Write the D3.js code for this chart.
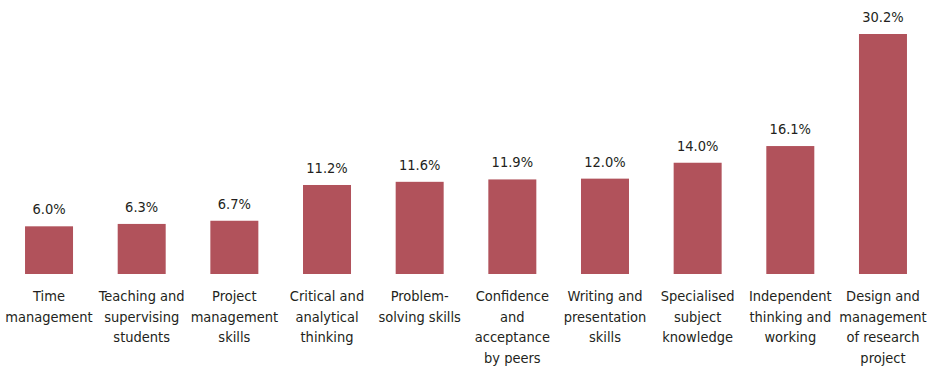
<!DOCTYPE html>
<html lang="en">
<head>
	<meta charset="UTF-8"/>
	<title>Skills bar chart</title>
	<script src="https://d3js.org/d3.v7.min.js"></script>
	<style>
		body { margin: 0; background: #fff; }
		text { font-family: "DejaVu Sans Condensed", "Liberation Sans Narrow", sans-serif; fill: #231f20; }
	</style>
</head>
<body>
	<script>
	var w = 931;
	var h = 369;

	// category labels, split into lines as in the picture
	var categories = [
		["Time", "management"],
		["Teaching and", "supervising", "students"],
		["Project", "management", "skills"],
		["Critical and", "analytical", "thinking"],
		["Problem-", "solving skills"],
		["Confidence", "and", "acceptance", "by peers"],
		["Writing and", "presentation", "skills"],
		["Specialised", "subject", "knowledge"],
		["Independent", "thinking and", "working"],
		["Design and", "management", "of research", "project"]
	];
	var values = [6.0, 6.3, 6.7, 11.2, 11.6, 11.9, 12.0, 14.0, 16.1, 30.2];

	var keys = categories.map(function (d, i) { return i; });

	var xScale = d3.scaleBand()
		.domain(keys)
		.range([2.7, 929.3])
		.paddingInner(0.482)
		.paddingOuter(0.241);

	var yScale = d3.scaleLinear()
		.domain([0, 30.2])
		.range([274, 34]);

	var svg = d3.select("body")
		.append("svg")
		.attr("width", w)
		.attr("height", h);

	svg.selectAll("rect")
		.data(values)
		.enter()
		.append("rect")
		.attr("x", function (d, i) { return xScale(i); })
		.attr("y", function (d) { return yScale(d); })
		.attr("width", xScale.bandwidth())
		.attr("height", function (d) { return yScale(0) - yScale(d); })
		.attr("fill", "#b1525b");

	svg.selectAll("text.value")
		.data(values)
		.enter()
		.append("text")
		.attr("class", "value")
		.text(function (d) { return d.toFixed(1) + "%"; })
		.attr("x", function (d, i) { return xScale(i) + xScale.bandwidth() / 2; })
		.attr("y", function (d) { return yScale(d) - 12; })
		.attr("text-anchor", "middle")
		.attr("font-size", "14.5px");

	var xAxis = d3.axisBottom(xScale)
		.tickSize(0)
		.tickFormat("");
	var axisG = svg.append("g")
		.attr("transform", "translate(0," + yScale(0) + ")")
		.call(xAxis);
	axisG.select(".domain").remove();

	// multi-line tick labels
	axisG.selectAll(".tick text").remove();
	axisG.selectAll(".tick").each(function (i) {
		var t = d3.select(this).append("text")
			.attr("text-anchor", "middle")
			.attr("font-size", "14.5px")
			.attr("y", 27);
		categories[i].forEach(function (line, j) {
			t.append("tspan")
				.attr("x", 0)
				.attr("dy", j === 0 ? 0 : 20.5)
				.text(line);
		});
	});
	</script>
</body>
</html>
